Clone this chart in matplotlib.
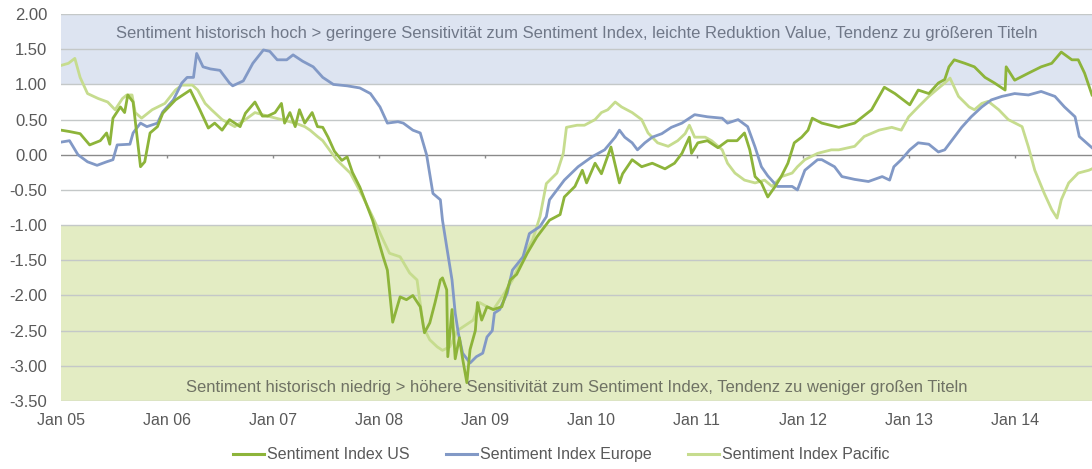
import matplotlib
matplotlib.use("Agg")
import matplotlib.pyplot as plt
from matplotlib.lines import Line2D

plt.rcParams['font.family'] = ['Liberation Sans', 'DejaVu Sans']

# ---------------- data (decimal years, index values) ----------------
us_years = [2005.00, 2005.08, 2005.18, 2005.27, 2005.37, 2005.43, 2005.46, 2005.49, 2005.56, 2005.60,
            2005.63, 2005.68, 2005.75, 2005.79, 2005.84, 2005.91, 2005.96, 2006.08, 2006.22, 2006.31,
            2006.39, 2006.45, 2006.52, 2006.59, 2006.69, 2006.74, 2006.83, 2006.90, 2006.95, 2007.02,
            2007.08, 2007.11, 2007.16, 2007.21, 2007.25, 2007.30, 2007.37, 2007.42, 2007.47, 2007.52,
            2007.58, 2007.65, 2007.70, 2007.75, 2007.82, 2007.94, 2008.04, 2008.08, 2008.13, 2008.20,
            2008.26, 2008.32, 2008.39, 2008.43, 2008.48, 2008.53, 2008.58, 2008.60, 2008.64, 2008.65,
            2008.69, 2008.72, 2008.76, 2008.79, 2008.83, 2008.86, 2008.91, 2008.93, 2008.97, 2009.02,
            2009.08, 2009.16, 2009.24, 2009.30, 2009.40, 2009.49, 2009.61, 2009.71, 2009.75, 2009.85,
            2009.92, 2009.96, 2010.04, 2010.10, 2010.19, 2010.27, 2010.30, 2010.39, 2010.48, 2010.58,
            2010.70, 2010.79, 2010.86, 2010.93, 2010.95, 2011.01, 2011.10, 2011.20, 2011.29, 2011.38,
            2011.45, 2011.50, 2011.55, 2011.61, 2011.67, 2011.74, 2011.80, 2011.86, 2011.92, 2011.99,
            2012.05, 2012.09, 2012.18, 2012.34, 2012.49, 2012.65, 2012.77, 2012.87, 2013.01, 2013.09,
            2013.19, 2013.28, 2013.34, 2013.38, 2013.43, 2013.53, 2013.62, 2013.72, 2013.81, 2013.91,
            2013.92, 2014.00, 2014.13, 2014.25, 2014.35, 2014.44, 2014.54, 2014.60, 2014.66, 2014.73]
us_values = [0.35, 0.33, 0.30, 0.14, 0.20, 0.31, 0.15, 0.52, 0.68, 0.60,
             0.85, 0.75, -0.17, -0.10, 0.31, 0.40, 0.59, 0.78, 0.92, 0.64,
             0.38, 0.45, 0.35, 0.50, 0.40, 0.59, 0.75, 0.55, 0.55, 0.60,
             0.73, 0.45, 0.60, 0.40, 0.64, 0.45, 0.60, 0.40, 0.39, 0.25,
             0.05, -0.08, -0.03, -0.25, -0.46, -0.93, -1.45, -1.64, -2.38, -2.02,
             -2.06, -2.00, -2.16, -2.53, -2.39, -2.10, -1.78, -1.75, -1.92, -2.87,
             -2.20, -2.90, -2.60, -2.90, -3.24, -2.77, -2.50, -2.10, -2.35, -2.16,
             -2.20, -2.16, -1.78, -1.70, -1.40, -1.17, -0.93, -0.85, -0.60, -0.45,
             -0.22, -0.40, -0.12, -0.27, 0.11, -0.40, -0.27, -0.07, -0.17, -0.12,
             -0.20, -0.12, 0.02, 0.25, 0.02, 0.17, 0.20, 0.10, 0.20, 0.20,
             0.31, 0.07, -0.31, -0.40, -0.60, -0.45, -0.30, -0.12, 0.17, 0.25,
             0.35, 0.52, 0.45, 0.39, 0.45, 0.64, 0.96, 0.87, 0.71, 0.92,
             0.87, 1.02, 1.07, 1.25, 1.35, 1.30, 1.25, 1.10, 1.02, 0.92,
             1.25, 1.06, 1.16, 1.25, 1.30, 1.46, 1.35, 1.35, 1.16, 0.85]

eu_years = [2005.00, 2005.08, 2005.16, 2005.25, 2005.34, 2005.43, 2005.49, 2005.53, 2005.65, 2005.68,
            2005.75, 2005.81, 2005.91, 2005.96, 2006.06, 2006.14, 2006.19, 2006.25, 2006.28, 2006.34,
            2006.41, 2006.50, 2006.59, 2006.62, 2006.72, 2006.81, 2006.91, 2006.97, 2007.04, 2007.13,
            2007.19, 2007.28, 2007.38, 2007.47, 2007.57, 2007.70, 2007.82, 2007.92, 2008.01, 2008.08,
            2008.18, 2008.23, 2008.32, 2008.39, 2008.45, 2008.51, 2008.58, 2008.60, 2008.64, 2008.69,
            2008.72, 2008.75, 2008.79, 2008.86, 2008.92, 2008.98, 2009.02, 2009.07, 2009.09, 2009.14,
            2009.21, 2009.26, 2009.36, 2009.42, 2009.52, 2009.58, 2009.61, 2009.68, 2009.75, 2009.88,
            2010.01, 2010.13, 2010.23, 2010.27, 2010.32, 2010.39, 2010.44, 2010.51, 2010.58, 2010.67,
            2010.76, 2010.86, 2010.98, 2011.10, 2011.24, 2011.29, 2011.39, 2011.48, 2011.55, 2011.61,
            2011.67, 2011.76, 2011.90, 2011.95, 2012.02, 2012.14, 2012.18, 2012.30, 2012.37, 2012.49,
            2012.62, 2012.75, 2012.82, 2012.86, 2012.93, 2013.01, 2013.09, 2013.19, 2013.28, 2013.34,
            2013.41, 2013.50, 2013.59, 2013.69, 2013.78, 2013.88, 2014.00, 2014.13, 2014.25, 2014.38,
            2014.47, 2014.57, 2014.61, 2014.70, 2014.73]
eu_values = [0.18, 0.20, 0.00, -0.10, -0.15, -0.10, -0.07, 0.14, 0.15, 0.31,
             0.45, 0.40, 0.45, 0.61, 0.78, 1.02, 1.10, 1.10, 1.44, 1.25,
             1.22, 1.20, 1.02, 0.98, 1.05, 1.30, 1.49, 1.47, 1.35, 1.35,
             1.42, 1.33, 1.25, 1.10, 1.00, 0.98, 0.95, 0.87, 0.68, 0.45,
             0.47, 0.45, 0.35, 0.31, 0.00, -0.55, -0.64, -0.93, -1.31, -1.78,
             -2.25, -2.54, -2.82, -2.96, -2.87, -2.82, -2.59, -2.50, -2.25, -2.20,
             -1.97, -1.64, -1.45, -1.12, -1.02, -0.88, -0.64, -0.50, -0.36, -0.17,
             -0.03, 0.07, 0.25, 0.35, 0.25, 0.17, 0.07, 0.17, 0.25, 0.30,
             0.39, 0.45, 0.57, 0.54, 0.52, 0.45, 0.50, 0.40, 0.11, -0.17,
             -0.30, -0.45, -0.45, -0.50, -0.22, -0.07, -0.07, -0.17, -0.31, -0.35,
             -0.38, -0.31, -0.36, -0.17, -0.07, 0.07, 0.17, 0.15, 0.04, 0.07,
             0.21, 0.39, 0.54, 0.68, 0.78, 0.83, 0.87, 0.85, 0.90, 0.83,
             0.68, 0.54, 0.26, 0.14, 0.10]

pa_years = [2005.00, 2005.07, 2005.13, 2005.18, 2005.25, 2005.35, 2005.44, 2005.51, 2005.58, 2005.62,
            2005.67, 2005.70, 2005.76, 2005.86, 2005.98, 2006.08, 2006.14, 2006.24, 2006.29, 2006.36,
            2006.42, 2006.52, 2006.64, 2006.74, 2006.83, 2006.95, 2007.08, 2007.21, 2007.30, 2007.35,
            2007.42, 2007.47, 2007.60, 2007.73, 2007.85, 2007.94, 2008.04, 2008.10, 2008.20, 2008.29,
            2008.36, 2008.42, 2008.48, 2008.55, 2008.60, 2008.67, 2008.74, 2008.79, 2008.89, 2008.95,
            2009.02, 2009.08, 2009.17, 2009.26, 2009.36, 2009.45, 2009.52, 2009.58, 2009.68, 2009.74,
            2009.77, 2009.87, 2009.94, 2010.04, 2010.10, 2010.16, 2010.23, 2010.29, 2010.39, 2010.48,
            2010.54, 2010.63, 2010.73, 2010.82, 2010.89, 2010.93, 2010.98, 2011.08, 2011.14, 2011.24,
            2011.29, 2011.36, 2011.45, 2011.55, 2011.64, 2011.71, 2011.80, 2011.90, 2011.95, 2012.02,
            2012.14, 2012.27, 2012.34, 2012.49, 2012.58, 2012.72, 2012.84, 2012.93, 2013.00, 2013.09,
            2013.19, 2013.26, 2013.34, 2013.39, 2013.47, 2013.57, 2013.62, 2013.69, 2013.75, 2013.85,
            2013.94, 2014.07, 2014.13, 2014.19, 2014.28, 2014.35, 2014.40, 2014.44, 2014.51, 2014.60,
            2014.70, 2014.73]
pa_values = [1.27, 1.30, 1.37, 1.10, 0.87, 0.80, 0.75, 0.64, 0.80, 0.85,
             0.85, 0.60, 0.52, 0.64, 0.73, 0.92, 0.99, 0.99, 0.92, 0.73,
             0.64, 0.50, 0.40, 0.50, 0.60, 0.55, 0.50, 0.45, 0.40, 0.35,
             0.26, 0.20, -0.07, -0.26, -0.60, -0.88, -1.21, -1.40, -1.45, -1.68,
             -1.78, -2.45, -2.63, -2.73, -2.78, -2.73, -2.50, -2.45, -2.35, -2.10,
             -2.16, -2.20, -2.00, -1.78, -1.45, -1.21, -0.88, -0.41, -0.26, 0.02,
             0.39, 0.42, 0.42, 0.50, 0.60, 0.64, 0.75, 0.68, 0.60, 0.50,
             0.31, 0.17, 0.12, 0.20, 0.30, 0.42, 0.25, 0.25, 0.20, 0.07,
             -0.12, -0.26, -0.36, -0.40, -0.36, -0.45, -0.31, -0.26, -0.17, -0.07,
             0.02, 0.07, 0.07, 0.12, 0.26, 0.35, 0.39, 0.35, 0.54, 0.68,
             0.83, 0.92, 1.02, 1.09, 0.83, 0.68, 0.64, 0.73, 0.76, 0.64,
             0.50, 0.40, 0.11, -0.22, -0.55, -0.78, -0.90, -0.64, -0.40, -0.26,
             -0.22, -0.20]

series_names = ["Sentiment Index US", "Sentiment Index Europe", "Sentiment Index Pacific"]
tick_years = list(range(2005, 2015))
tick_labels = ["Jan %02d" % (y % 100) for y in tick_years]
y_ticks = [2.0, 1.5, 1.0, 0.5, 0.0, -0.5, -1.0, -1.5, -2.0, -2.5, -3.0, -3.5]
high_band = (1.0, 2.0)
low_band = (-3.5, -1.0)
high_text = "Sentiment historisch hoch > geringere Sensitivität zum Sentiment Index, leichte Reduktion Value, Tendenz zu größeren Titeln"
low_text = "Sentiment historisch niedrig > höhere Sensitivität zum Sentiment Index, Tendenz zu weniger großen Titeln"

# ---------------- styling ----------------
c_us = "#8db43a"
c_eu = "#8299c6"
c_pa = "#c6dc8e"

fig = plt.figure(figsize=(10.92, 4.69), dpi=100)
ax = fig.add_axes([0.0559, 0.145, 1 - 0.0559, 0.970 - 0.145])

ax.set_xlim(2005.0, 2014.73)
ax.set_ylim(-3.5, 2.0)

ax.axhspan(*high_band, color="#dde4f1", zorder=0, lw=0)
ax.axhspan(*low_band, color="#e3ecc3", zorder=0, lw=0)

for v in y_ticks:
    if v == 0.0:
        continue
    ax.axhline(v, color="#c4c8c8", lw=1.0, zorder=1)
ax.axhline(0.0, color="#8a8a8a", lw=1.0, zorder=1)
ax.vlines(tick_years[1:], -0.04, 0.0, color="#8a8a8a", lw=1.0, zorder=1)

ax.plot(eu_years, eu_values, color=c_eu, lw=2.0, zorder=3, label=series_names[1])
ax.plot(pa_years, pa_values, color=c_pa, lw=2.0, zorder=2, label=series_names[2])
ax.plot(us_years, us_values, color=c_us, lw=2.0, zorder=4, label=series_names[0])

ax.text(0.5, 1.73, high_text, transform=ax.get_yaxis_transform(), ha="center", va="center",
        fontsize=12, color="#707888", zorder=5)
ax.text(0.5, -3.31, low_text, transform=ax.get_yaxis_transform(), ha="center", va="center",
        fontsize=12, color="#6f7264", zorder=5)

for s in ax.spines.values():
    s.set_visible(False)
ax.set_yticks(y_ticks)
ax.set_yticklabels(["%.2f" % v for v in y_ticks])
ax.set_xticks(tick_years)
ax.set_xticklabels(tick_labels)
ax.tick_params(axis="both", length=0, colors="#595959")
ax.tick_params(axis="y", pad=10, labelsize=12)
ax.tick_params(axis="x", pad=9, labelsize=11.5)
for lab in ax.get_yticklabels():
    lab.set_horizontalalignment("right")

handles = [Line2D([0], [0], color=c_us, lw=2.2),
           Line2D([0], [0], color=c_eu, lw=2.2),
           Line2D([0], [0], color=c_pa, lw=2.2)]
fig.legend(handles, series_names, loc="center", bbox_to_anchor=(0.514, 0.03), ncol=3,
           frameon=False, fontsize=11.5, handlelength=1.9, handletextpad=0.2,
           columnspacing=2.3, labelcolor="#595959")

fig.savefig("out.png", dpi=100)
